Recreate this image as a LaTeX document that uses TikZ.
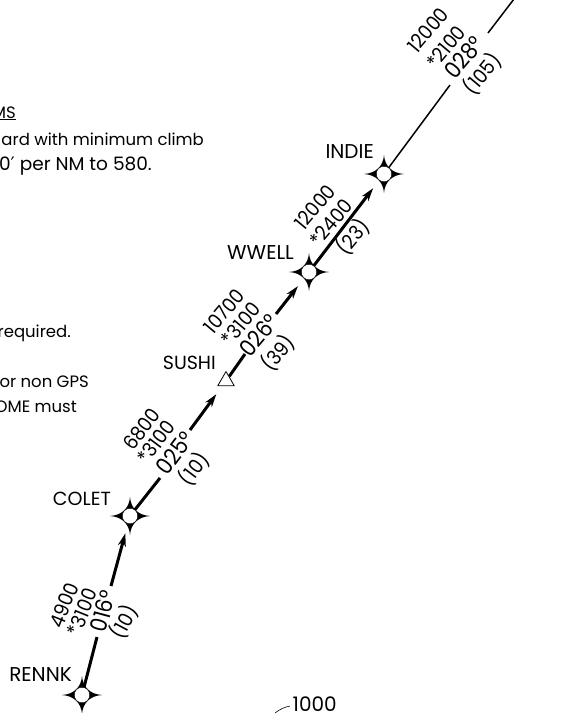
\documentclass[tikz,border=0pt]{standalone}
\usepackage{fontspec}
\setmainfont{Poppins}
\newfontfamily\primefont{DejaVu Sans}
\usetikzlibrary{shapes.geometric, arrows.meta}
\tikzset{
 fix/.style={circle, fill=white, draw=black, line width=0.4pt, inner sep=0pt, minimum size=15.5pt},
 tri/.style={regular polygon, regular polygon sides=3, fill=white, draw=black, line width=0.8pt, inner sep=0pt, minimum size=19pt},
 leg/.style={line width=3pt},
 thinleg/.style={line width=1.5pt},
 toFix/.style={line width=3pt, ->, shorten >=10pt},
 lbl/.style={inner sep=0pt, anchor=base east, font=\fontsize{20}{20}\selectfont},
 lblsmall/.style={lbl, font=\fontsize{19}{19}\selectfont},
 note/.style={inner sep=0pt, anchor=base east, font=\fontsize{16.5}{17}\selectfont},
 crs/.style={inner sep=0pt, font=\fontsize{20}{20}\selectfont, rotate=#1, xscale=0.92},
 hdg/.style={inner sep=0pt, font=\fontsize{23}{23}\selectfont, rotate=#1, xscale=0.9}
}
\begin{document}
\begin{tikzpicture}[x=1pt, y=-1pt, line join=round, >={Stealth[length=13pt, width=8pt, inset=4pt]}]
\useasboundingbox (0,0) rectangle (575,713);
\foreach \name/\xx/\yy in {rennk/82/695, colet/130/516, wwell/309/272, indie/384/174} {
  \fill (\xx,\yy) ++(0,-19) .. controls +(0.8,11) and +(-12,-0.8) .. ++(20,19)
    .. controls +(-12,0.8) and +(0.8,-11) .. ++(-20,19)
    .. controls +(-0.8,-11) and +(12,0.8) .. ++(-20,-19)
    .. controls +(12,-0.8) and +(-0.8,11) .. ++(20,-19) -- cycle;
  \node[fix] (\name) at (\xx,\yy) {};
}
\node[tri] (sushi) at (226,381) {};
\coordinate (a) at (97,637);
\coordinate (b) at (111,586);
\coordinate (c) at (160,478);
\coordinate (d) at (190,430);
\coordinate (e) at (245,354);
\coordinate (f) at (276,314);
\coordinate (g) at (450,85);
\coordinate (h) at (488,33);
\coordinate (i) at (514,-1);
\coordinate (j) at (275,713);
\coordinate (k) at (290,706);
\draw[leg] (rennk) -- (a);
\draw[toFix] (b) -- (colet);
\draw[leg] (colet) -- (c);
\draw[toFix] (d) -- (sushi);
\draw[leg] (sushi) -- (e);
\draw[toFix] (f) -- (wwell);
\draw[toFix] (wwell) -- (indie);
\draw[thinleg] (indie) -- (g);
\draw[thinleg] (h) -- (i);
\draw[line width=0.6pt] (j) .. controls (280,709) and (285,707) .. (k);
\node[lbl] (rennkname) at (72,681) {RENNK};
\node[lblsmall] (coletname) at (111,505) {COLET};
\node[lblsmall] (sushiname) at (216,369) {SUSHI};
\node[lbl] (wwellname) at (294,259) {WWELL};
\node[lbl] (indiename) at (374,158) {INDIE};
\node[lbl] (tenhundred) at (337,711) {1000};
\node[crs=68] (a1) at (64,605) {4900};
\node[crs=68] (a2) at (82,612) {*3100};
\node[hdg=75] (a3) at (103,611) {016°};
\node[crs=62] (a4) at (124,622) {(10)};
\node[crs=53] (b1) at (142,429) {6800};
\node[crs=53] (b2) at (156,442) {*3100};
\node[hdg=53] (b3) at (175,453) {025°};
\node[crs=53] (b4) at (194,469) {(10)};
\node[crs=50] (c1) at (224,311) {10700};
\node[crs=50] (c2) at (241,324) {*3100};
\node[hdg=50] (c3) at (259,335) {026°};
\node[crs=50] (c4) at (278,353) {(39)};
\node[crs=50] (d1) at (315,207) {12000};
\node[crs=50] (d2) at (331,223) {*2400};
\node[crs=50] (d3) at (353,237) {(23)};
\node[crs=50] (e1) at (428,30) {12000};
\node[crs=50] (e2) at (446,47) {*2100};
\node[hdg=50] (e3) at (464,57) {028°};
\node[crs=50] (e4) at (482,74) {(105)};
\node[note] (n1) at (16,118) {\underline{MS}};
\node[note] (n2) at (204,145) {ard with minimum climb};
\node[note, font=\fontsize{18.5}{19}\selectfont] (n3) at (152,170) {0{\primefont ′} per NM to 580.};
\node[note] (n4) at (71,337) {required.};
\node[note] (n5) at (89,387) {or non GPS};
\node[note] (n6) at (77,412) {OME must};
\end{tikzpicture}
\end{document}
